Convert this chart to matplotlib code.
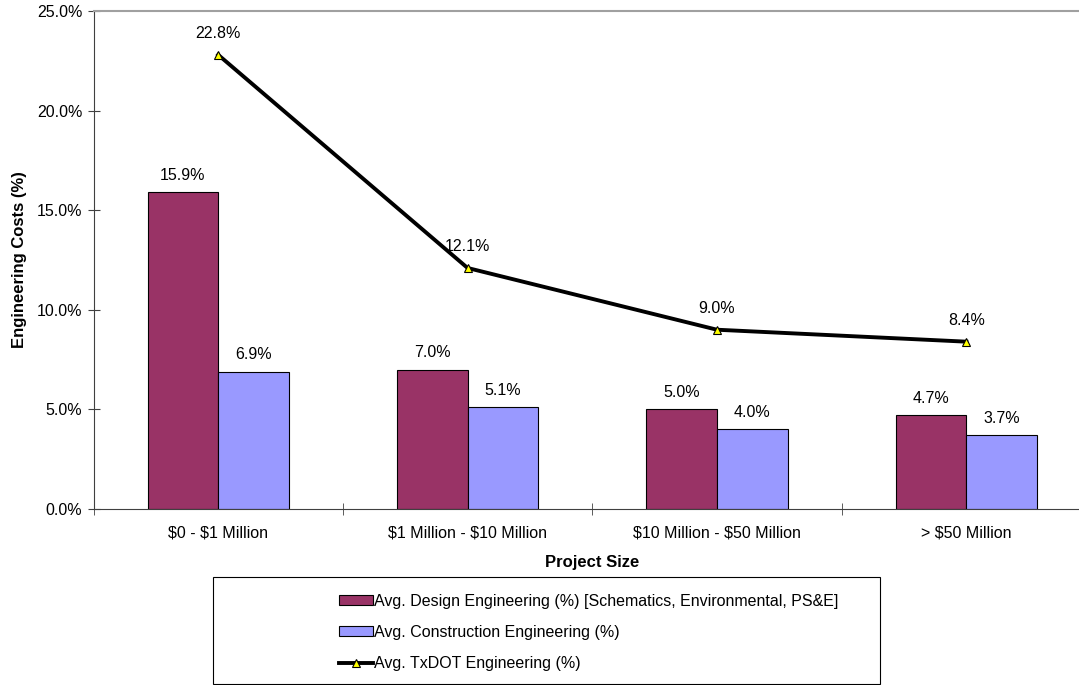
import matplotlib.pyplot as plt
import matplotlib.patches as mpatches
import numpy as np

plt.rcParams['font.family'] = ['Liberation Sans', 'DejaVu Sans']
plt.rcParams['text.parse_math'] = False

categories = ["$0 - $1 Million", "$1 Million - $10 Million", "$10 Million - $50 Million", "> $50 Million"]
design = [15.9, 7.0, 5.0, 4.7]
construction = [6.9, 5.1, 4.0, 3.7]
txdot = [22.8, 12.1, 9.0, 8.4]

labels = ["Avg. Design Engineering (%) [Schematics, Environmental, PS&E]",
          "Avg. Construction Engineering (%)",
          "Avg. TxDOT Engineering (%)"]

fs = 11.5
fig = plt.figure(figsize=(10.79, 6.85), dpi=100)
ax = fig.add_axes([93.5 / 1079, 1 - 509 / 685, (1091 - 93.5) / 1079, (509 - 11) / 685])

x = np.arange(len(categories))
w = 0.283
b1 = ax.bar(x - w / 2, design, w, color="#993366", edgecolor="black", linewidth=0.8, label=labels[0])
b2 = ax.bar(x + w / 2, construction, w, color="#9999FF", edgecolor="black", linewidth=0.8, label=labels[1])
ln, = ax.plot(x, txdot, color="black", linewidth=2.8, marker="^", markersize=6,
              markerfacecolor="#FFFF00", markeredgecolor="black", markeredgewidth=0.8,
              label=labels[2], zorder=5)

for bars in (b1, b2):
    for r in bars:
        ax.annotate(f"{r.get_height():.1f}%", (r.get_x() + r.get_width() / 2, r.get_height()),
                    xytext=(0, 7), textcoords="offset points", ha="center", va="bottom", fontsize=fs)
for xi, v in zip(x, txdot):
    ax.annotate(f"{v:.1f}%", (xi, v), xytext=(0, 10), textcoords="offset points",
                ha="center", va="bottom", fontsize=fs)

ax.set_xlim(-0.5, len(categories) - 0.5)
ax.set_ylim(0, 25)
ax.set_yticks(np.arange(0, 25.1, 5))
ax.set_yticklabels([f"{v:.1f}%" for v in np.arange(0, 25.1, 5)], fontsize=fs)
ax.set_xticks(x)
ax.set_xticklabels(categories, fontsize=fs)
ax.tick_params(axis="x", length=0, pad=12)
ax.set_xticks(np.arange(-0.5, len(categories) - 0.4, 1), minor=True)
ax.tick_params(axis="x", which="minor", length=9, direction="inout", color="#404040")
ax.tick_params(axis="y", length=8, direction="inout", color="#404040", pad=4)

ax.spines["right"].set_visible(False)
ax.spines["top"].set_color("#a0a0a0")
ax.spines["top"].set_linewidth(1.5)
ax.spines["left"].set_color("#404040")
ax.spines["bottom"].set_color("#404040")

ax.set_xlabel("Project Size", fontsize=12, fontweight="bold", labelpad=10)
ax.set_ylabel("Engineering Costs (%)", fontsize=12, fontweight="bold", labelpad=7)

# legend frame drawn separately, legend itself centered inside
frame = mpatches.Rectangle((213 / 1079, 0.0015), (880 - 213) / 1079, (685 - 578) / 685,
                           transform=fig.transFigure, facecolor="white", edgecolor="black",
                           linewidth=0.8)
fig.patches.append(frame)
fig.legend(handles=[b1, b2, ln], labels=labels, loc="center",
           bbox_to_anchor=(589 / 1079, 1 - 632.5 / 685), frameon=False, fontsize=fs,
           labelspacing=1.0, handlelength=2.1, handleheight=0.6, handletextpad=0.1,
           borderpad=0)

fig.savefig("out.png", dpi=100)
